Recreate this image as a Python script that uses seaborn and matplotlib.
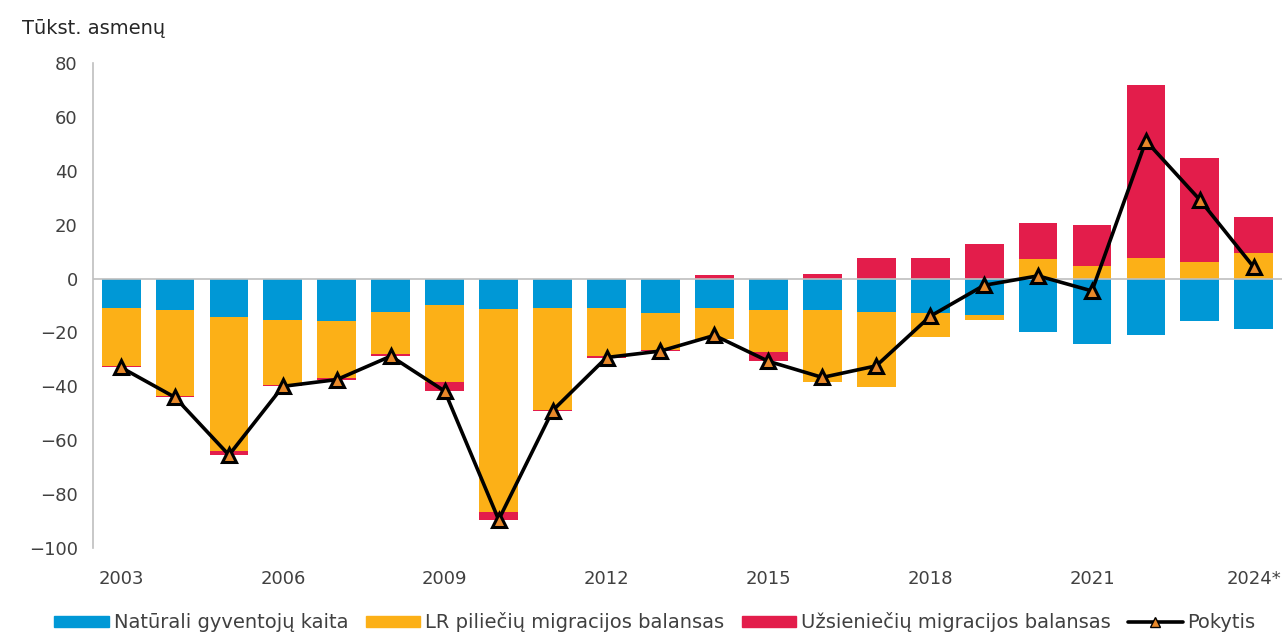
import matplotlib
matplotlib.use("Agg")
import matplotlib.pyplot as plt
import seaborn as sns
import numpy as np
from matplotlib.patches import Patch
from matplotlib.lines import Line2D

years = [str(y) for y in range(2003, 2024)] + ["2024*"]
natural = [-10.8, -11.8, -14.4, -15.4, -15.9, -12.3, -9.9, -11.4, -10.8, -10.8, -12.8,
           -10.8, -11.8, -11.8, -12.3, -12.8, -13.4, -19.8, -24.4, -20.8, -15.7, -18.7]
citizens = [-21.6, -31.8, -49.6, -24.0, -21.0, -15.7, -28.6, -75.4, -37.8, -18.0, -13.6,
            -11.5, -15.6, -26.6, -27.9, -8.9, -1.8, 7.2, 4.7, 7.7, 6.2, 9.3]
foreigners = [-0.6, -0.5, -1.5, -0.6, -0.6, -0.8, -3.3, -2.7, -0.4, -0.5, -0.5,
              1.2, -3.3, 1.7, 7.8, 7.7, 12.7, 13.6, 15.1, 64.2, 38.7, 13.6]
change = [-33.0, -44.1, -65.5, -40.0, -37.5, -28.8, -41.8, -89.5, -49.0, -29.3, -26.9,
          -21.1, -30.7, -36.7, -32.4, -14.0, -2.5, 1.0, -4.6, 51.1, 29.2, 4.2]

labels = ["Natūrali gyventojų kaita", "LR piliečių migracijos balansas",
          "Užsieniečių migracijos balansas", "Pokytis"]
colors = ["#0098D6", "#FCB017", "#E31D4B"]
tri_face = "#E8892A"

sns.set_style("white")
plt.rcParams['font.family'] = ['DejaVu Sans']

fig, ax = plt.subplots(figsize=(12.87, 6.35), dpi=100)
fig.subplots_adjust(left=0.0723, right=0.996, top=0.9008, bottom=0.137)

# stack positives up from zero and negatives down from zero
pos_base = np.zeros(len(years))
neg_base = np.zeros(len(years))
for vals, col in zip([natural, citizens, foreigners], colors):
    v = np.array(vals)
    bottom = np.where(v >= 0, pos_base, neg_base)
    sns.barplot(x=years, y=v, order=years, bottom=bottom, color=col, saturation=1,
                width=0.72, errorbar=None, linewidth=0, ax=ax)
    pos_base = pos_base + np.where(v >= 0, v, 0)
    neg_base = neg_base + np.where(v < 0, v, 0)

ax.axhline(0, color="#BFBFBF", lw=1.2, zorder=1.5)

sns.pointplot(x=years, y=change, order=years, color="black", markers="^",
              linestyles="-", errorbar=None, ax=ax)
line = ax.lines[-1]
line.set_linewidth(2.6)
line.set_markersize(10)
line.set_markerfacecolor(tri_face)
line.set_markeredgecolor("black")
line.set_markeredgewidth(2.2)
line.set_zorder(5)

ax.set_ylim(-100, 80)
ax.set_yticks(range(-100, 81, 20))
ax.set_xlim(-0.52, 21.52)
ax.set_xticks(range(0, 22, 3))
ax.set_xticklabels(years[::3])
ax.set_xlabel("")
ax.set_ylabel("")
for s in ["top", "right", "bottom"]:
    ax.spines[s].set_visible(False)
ax.spines["left"].set_color("#BFBFBF")
ax.spines["left"].set_linewidth(1.2)
ax.tick_params(axis="x", length=0, pad=16, labelsize=13, labelcolor="#404040")
ax.tick_params(axis="y", length=0, pad=11, labelsize=13, labelcolor="#404040")

fig.text(22 / 1287, 1 - 28 / 635, "Tūkst. asmenų", fontsize=14, color="#262626",
         va="center", ha="left")

handles = [Patch(color=c) for c in colors]
handles.append(Line2D([0], [0], color="black", lw=2.6, marker="^", markersize=7,
                      markerfacecolor=tri_face, markeredgecolor="black"))
fig.legend(handles, labels, loc="center", bbox_to_anchor=(0.509, 0.02), ncol=4,
           frameon=False, fontsize=14, handlelength=2.8, handleheight=0.45,
           columnspacing=0.9, handletextpad=0.25, labelcolor="#404040")

fig.savefig("out.png", dpi=100)
